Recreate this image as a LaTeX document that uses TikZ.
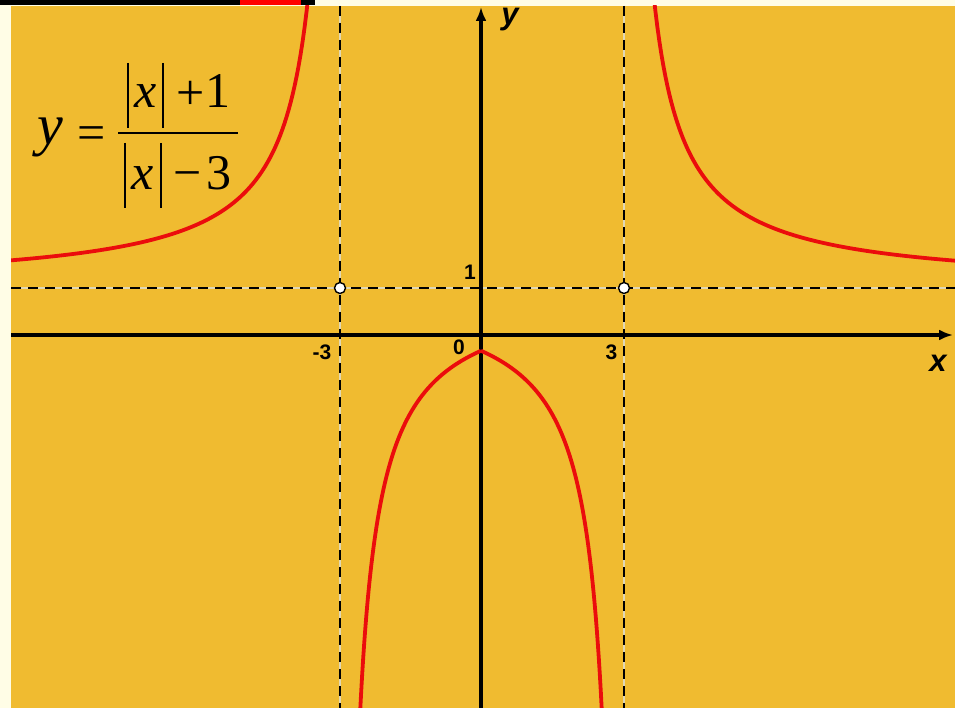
\documentclass[tikz,border=0pt]{standalone}
\usepackage{fontspec}
\setmainfont{Liberation Serif}
\newfontfamily\lsans{Liberation Sans}
\usetikzlibrary{arrows.meta}
\definecolor{bgorange}{RGB}{240,187,48}
\definecolor{cream}{RGB}{255,253,230}
\definecolor{curvered}{RGB}{235,12,12}
\definecolor{gapcol}{RGB}{225,216,180}
\tikzset{
  curve/.style={curvered,line width=3.8pt,line join=round},
  axisline/.style={black,line width=3.1pt,-{Latex[length=14pt,width=11pt]}},
  guideunder/.style={gapcol,line width=2.4pt},
  guide/.style={black,line width=2.4pt,dash pattern=on 10pt off 7pt},
  ticklbl/.style={font=\lsans\bfseries\fontsize{21}{21}\selectfont,inner sep=0pt},
  axislbl/.style={font=\lsans\bfseries\itshape\fontsize{31}{31}\selectfont,inner sep=0pt},
  hole/.style={circle,draw=black,fill=white,line width=1.4pt,minimum size=11pt,inner sep=0pt},
  fml/.style={font=\fontsize{50}{50}\selectfont,inner sep=0pt,anchor=base west},
  fbar/.style={black,line width=2.8pt}
}
\begin{document}
\begin{tikzpicture}[x=1pt,y=-1pt]
\useasboundingbox (0,0) rectangle (955,708);
% backgrounds
\fill[cream] (0,0) rectangle (955,708);
\fill[bgorange] (11,6) rectangle (955,708);
\fill[black] (0,0) rectangle (315,5);
\fill[red] (240,0) rectangle (301,5);
\begin{scope}
\clip (11,6) rectangle (955,708);
% guide lines
\coordinate (hl) at (11,288);
\coordinate (hr) at (955,288);
\coordinate (vlt) at (340,6);
\coordinate (vlb) at (340,708);
\coordinate (vrt) at (624,6);
\coordinate (vrb) at (624,708);
\foreach \a/\b in {hl/hr,vlt/vlb,vrt/vrb}{
  \draw[guideunder] (\a) -- (\b);
  \draw[guide] (\a) -- (\b);
}
% axes
\coordinate (xs) at (11,335);
\coordinate (xe) at (953,335);
\coordinate (ys) at (481,708);
\coordinate (ye) at (481,7);
\draw[axisline] (xs) -- (xe);
\draw[axisline] (ys) -- (ye);
% curves
\begin{scope}[shift={(481,335)},x=47.33pt,y=47.33pt]
\draw[curve] plot[domain=3.6:10.3,samples=160] (\x,{(\x+1)/(\x-3)});
\draw[curve] plot[domain=-10.3:-3.6,samples=160] (\x,{(-\x+1)/(-\x-3)});
\draw[curve] plot[domain=-2.6:0,samples=120] (\x,{(-\x+1)/(-\x-3)});
\draw[curve] plot[domain=0:2.6,samples=120] (\x,{(\x+1)/(\x-3)});
\end{scope}
\end{scope}
% holes
\node[hole] (hole1) at (340,288) {};
\node[hole] (hole2) at (624,288) {};
% tick labels
\node[ticklbl] (l1) at (470,272) {1};
\node[ticklbl] (l0) at (459,347.5) {0};
\node[ticklbl] (lm3) at (322,352.5) {-3};
\node[ticklbl] (l3) at (611.5,352.5) {3};
% axis labels
\node[axislbl,anchor=base] (ylbl) at (510,25) {y};
\node[axislbl,anchor=base] (xlbl) at (938,371) {x};
% formula
\node[fml,font=\itshape\fontsize{58}{58}\selectfont] (fy) at (37,145) {y};
\node[fml] (feq) at (77,150) {=};
\draw[fbar] (118,133) -- (238,133);
\draw[fbar] (128,63) -- (128,128);
\draw[fbar] (163,63) -- (163,128);
\node[fml,font=\itshape\fontsize{50}{50}\selectfont] (nx) at (134,108) {x};
\node[fml] (nplus) at (176,110) {+};
\node[fml] (none) at (205,108) {1};
\draw[fbar] (125,143) -- (125,208);
\draw[fbar] (161,143) -- (161,208);
\node[fml,font=\itshape\fontsize{50}{50}\selectfont] (dx) at (131,190) {x};
\node[fml] (dminus) at (173,190) {−};
\node[fml] (dthree) at (206,190) {3};
\end{tikzpicture}
\end{document}
